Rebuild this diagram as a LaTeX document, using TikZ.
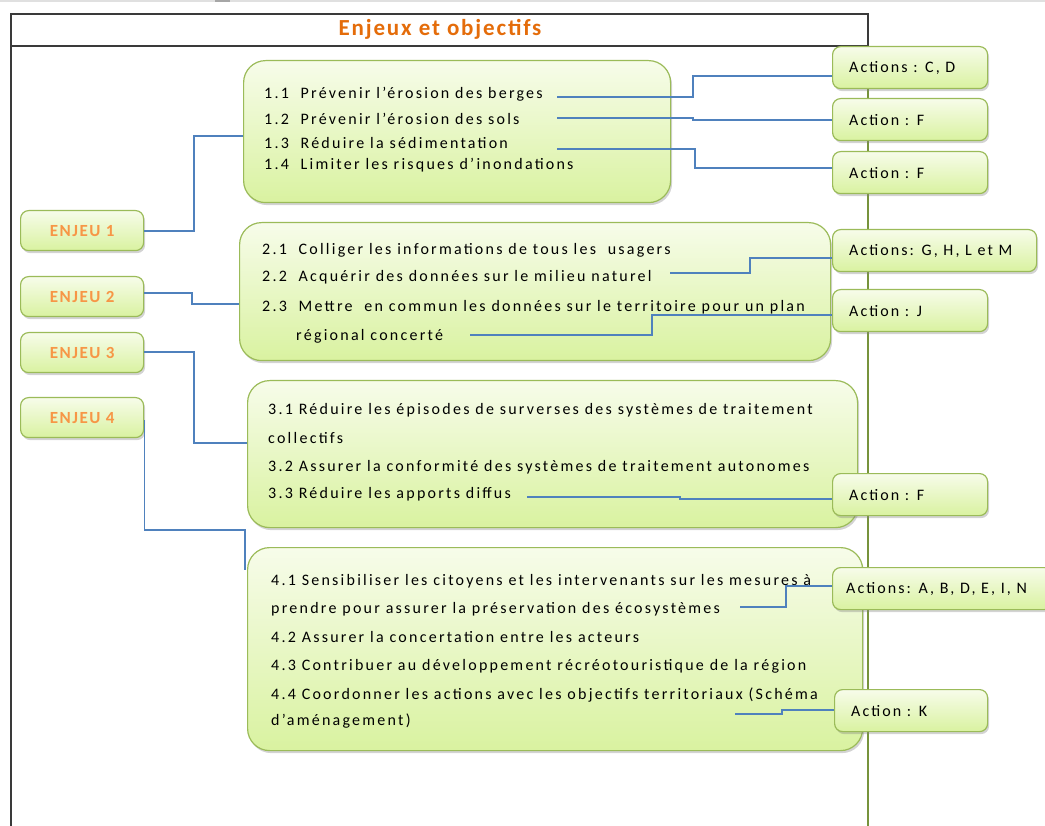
\documentclass[tikz,border=0pt]{standalone}
\usepackage{fontspec}
\setmainfont{Carlito}
\newfontfamily\objfont{Carlito}[LetterSpace=14]
\newfontfamily\actfont{Carlito}[LetterSpace=13]
\newfontfamily\enjfont{Carlito}[LetterSpace=9]
\newfontfamily\titfont{Carlito}[LetterSpace=8]
\usetikzlibrary{shadows}
\definecolor{boxline}{HTML}{9BBB59}
\definecolor{boxtop}{HTML}{F7FCEA}
\definecolor{boxbot}{HTML}{D9F2A0}
\definecolor{enjeuor}{HTML}{F79646}
\definecolor{titleor}{HTML}{E46C0A}
\definecolor{connblue}{HTML}{4F81BD}
\definecolor{olive}{HTML}{77933C}
\definecolor{framegray}{HTML}{3A3A3A}
\tikzset{
  gbox/.style={draw=boxline, line width=1.2pt, top color=boxtop, bottom color=boxbot,
    drop shadow={shadow xshift=1.5pt, shadow yshift=-2.5pt, opacity=0.35},
    anchor=north west, inner sep=0pt},
  objbox/.style={gbox, rounded corners=22pt},
  actbox/.style={gbox, rounded corners=8pt},
  enjeubox/.style={gbox, rounded corners=8pt, minimum width=123pt, minimum height=40pt},
  enjeutxt/.style={text=enjeuor, font=\enjfont\fontsize{17}{20}\selectfont\bfseries},
  txt/.style={anchor=west, inner sep=0pt, font=\objfont\fontsize{16}{19}\selectfont},
  acttxt/.style={anchor=west, inner sep=0pt, font=\actfont\fontsize{16}{19}\selectfont},
  conn/.style={draw=connblue, line width=1.1pt},
  frame/.style={draw=framegray, line width=1.8pt},
}
\begin{document}
\begin{tikzpicture}[x=1pt,y=-1pt]
\useasboundingbox (0,0) rectangle (1045,826);
% faint top line
\draw[black!12, line width=1.2pt] (0,1) -- (1045,1);
\fill[black!35] (215,0) rectangle (230,2);
% frame
\draw[frame] (11,46) rectangle (868,14);
\draw[frame] (11,46) -- (11,826);
\draw[olive, line width=2pt] (868,46) -- (868,826);
\node[text=titleor, font=\titfont\fontsize{23}{26}\selectfont\bfseries] (title) at (440,29.5) {Enjeux et objectifs};

% ENJEU boxes
\node[enjeubox] (e1) at (20,210) {};
\node[enjeutxt] at (e1.center) {ENJEU 1};
\node[enjeubox] (e2) at (20,276) {};
\node[enjeutxt] at (e2.center) {ENJEU 2};
\node[enjeubox] (e3) at (20,332) {};
\node[enjeutxt] at (e3.center) {ENJEU 3};
\node[enjeubox] (e4) at (20,397) {};
\node[enjeutxt] at (e4.center) {ENJEU 4};

% objective boxes
\node[objbox, minimum width=427pt, minimum height=142pt] (o1) at (243,60) {};
\node[objbox, minimum width=591pt, minimum height=138pt] (o2) at (239,222) {};
\node[objbox, minimum width=610pt, minimum height=147pt] (o3) at (247,380) {};
\node[objbox, minimum width=615pt, minimum height=203pt] (o4) at (247,547) {};

% texts box 1
\node[txt] (l11) at (264,94.5) {1.1\ \ Prévenir l’érosion des berges};
\node[txt] (l12) at (264,118.5) {1.2\ \ Prévenir l’érosion des sols};
\node[txt] (l13) at (264,143.5) {1.3\ \ Réduire la sédimentation};
\node[txt] (l14) at (264,165.5) {1.4\ \ Limiter les risques d’inondations};
% texts box 2
\node[txt] (l21) at (262,250) {2.1\ \ Colliger les informations de tous les\ \ usagers};
\node[txt] (l22) at (262,277) {2.2\ \ Acquérir des données sur le milieu naturel};
\node[txt] (l23) at (262,307) {2.3\ \ Mettre\ \ en commun les données sur le territoire pour un plan};
\node[txt] (l23b) at (296,336) {régional concerté};
% texts box 3
\node[txt] (l31) at (268,410) {3.1 Réduire les épisodes de surverses des systèmes de traitement};
\node[txt] (l31b) at (268,438) {collectifs};
\node[txt] (l32) at (268,467) {3.2 Assurer la conformité des systèmes de traitement autonomes};
\node[txt] (l33) at (268,494) {3.3 Réduire les apports diffus};
% texts box 4
\node[txt] (l41) at (271,581) {4.1 Sensibiliser les citoyens et les intervenants sur les mesures à};
\node[txt] (l41b) at (271,609) {prendre pour assurer la préservation des écosystèmes};
\node[txt] (l42) at (271,637) {4.2 Assurer la concertation entre les acteurs};
\node[txt] (l43) at (271,666) {4.3 Contribuer au développement récréotouristique de la région};
\node[txt] (l44) at (271,695) {4.4 Coordonner les actions avec les objectifs territoriaux (Schéma};
\node[txt] (l44b) at (271,721) {d’aménagement)};

% action boxes
\node[actbox, minimum width=155pt, minimum height=42pt] (a1) at (832,46) {};
\node[acttxt] at (849,68) {Actions : C, D};
\node[actbox, minimum width=155pt, minimum height=42pt] (a2) at (832,98) {};
\node[acttxt] at (849,120) {Action : F};
\node[actbox, minimum width=155pt, minimum height=42pt] (a3) at (832,151) {};
\node[acttxt] at (849,173) {Action : F};
\node[actbox, minimum width=204pt, minimum height=42pt] (a4) at (832,229) {};
\node[acttxt] at (849,251) {Actions: G, H, L et M};
\node[actbox, minimum width=155pt, minimum height=42pt] (a5) at (832,289) {};
\node[acttxt] at (849,311) {Action : J};
\node[actbox, minimum width=155pt, minimum height=42pt] (a6) at (832,473) {};
\node[acttxt] at (849,495) {Action : F};
\node[actbox, minimum width=220pt, minimum height=42pt] (a7) at (832,567) {};
\node[acttxt] at (846,589) {Actions: A, B, D, E, I, N};
\node[actbox, minimum width=153pt, minimum height=42pt] (a8) at (834,689) {};
\node[acttxt] at (851,711) {Action : K};

% connector end coordinates
\coordinate (s11) at (557,97);
\coordinate (s12) at (557,118);
\coordinate (s13) at (557,149);
\coordinate (s22) at (670,273);
\coordinate (s23) at (470,335);
\coordinate (s33) at (527,497);
\coordinate (s41) at (740,607);
\coordinate (s44) at (735,714);

% ENJEU -> objectives
\draw[conn] (e1.east |- 0,231) -- (194,231) -- (194,136) -- (o1.west |- 0,136);
\draw[conn] (e2.east |- 0,293) -- (192,293) -- (192,304) -- (o2.west |- 0,304);
\draw[conn] (e3.east |- 0,352) -- (194,352) -- (194,443) -- (o3.west |- 0,443);
\draw[conn] (e4.east |- 0,420) -- (e4.east |- 0,530) -- (245,530) -- (245,570);
% objectives -> actions
\draw[conn] (s11) -- (693,97) -- (693,76) -- (a1.west |- 0,76);
\draw[conn] (s12) -- (693,118) -- (693,120) -- (a2.west |- 0,120);
\draw[conn] (s13) -- (695,149) -- (695,168) -- (a3.west |- 0,168);
\draw[conn] (s22) -- (750,273) -- (750,258) -- (a4.west |- 0,258);
\draw[conn] (s23) -- (652,335) -- (652,315) -- (a5.west |- 0,315);
\draw[conn] (s33) -- (680,497) -- (680,499) -- (a6.west |- 0,499);
\draw[conn] (s41) -- (786,607) -- (786,586) -- (a7.west |- 0,586);
\draw[conn] (s44) -- (782,714) -- (782,710) -- (a8.west |- 0,710);
\end{tikzpicture}
\end{document}
